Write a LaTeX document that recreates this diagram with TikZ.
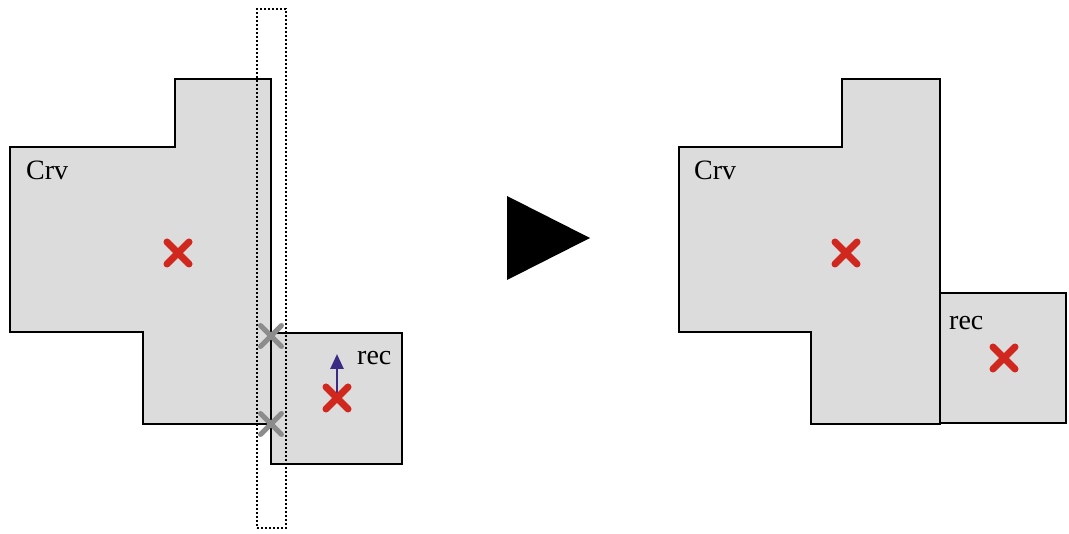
\documentclass[tikz,border=0pt]{standalone}
\usepackage{fontspec}
\setmainfont{Liberation Serif}
\usetikzlibrary{arrows.meta,calc}
\definecolor{shapefill}{HTML}{DCDCDC}
\definecolor{xred}{HTML}{D0281F}
\definecolor{xgrey}{HTML}{8C8C8C}
\definecolor{arrowblue}{HTML}{3A2C85}
\tikzset{
  region/.style={draw=black, fill=shapefill, line width=2.2pt, line join=miter},
  redx/.style={draw=xred, line width=7pt, line cap=round},
  greyx/.style={draw=xgrey, line width=5pt, line cap=round},
  lbl/.style={font=\fontsize{28}{30}\selectfont, inner sep=0pt, anchor=base west},
  window/.style={draw=black, line width=2pt, dash pattern=on 2pt off 2pt},
}
\newcommand{\xmark}[3]{\draw[#1] ($(#2)+(-#3,-#3)$) -- ($(#2)+(#3,#3)$) ($(#2)+(-#3,#3)$) -- ($(#2)+(#3,-#3)$);}
\begin{document}
\begin{tikzpicture}[x=1pt,y=-1pt]
\useasboundingbox (0,0) rectangle (1069,534);
% ---------- left ----------
\draw[region] (10,147) -- (175,147) -- (175,79) -- (271,79) -- (271,424) -- (143,424) -- (143,332) -- (10,332) -- cycle;
\draw[region] (271,333) rectangle (402,464);
\node[lbl] (crvL) at (26,180) {Crv};
\node[lbl] (recL) at (357,365) {rec};
\coordinate (cL) at (178,253);
\coordinate (rL) at (337,398);
\coordinate (g1) at (271,336);
\coordinate (g2) at (271,424);
\coordinate (tipL) at (337,354);
\draw[arrowblue, line width=2.6pt, -{Triangle[length=15pt,width=13pt]}] (rL) -- (tipL);
\xmark{redx}{cL}{11}
\xmark{redx}{rL}{11}
\xmark{greyx}{g1}{10.5}
\xmark{greyx}{g2}{10.5}
\node[window, minimum width=29pt, minimum height=519pt, inner sep=0pt] (win) at (271.5,268.5) {};
% ---------- arrow ----------
\fill[black] (507,196) -- (590,238) -- (507,280) -- cycle;
% ---------- right ----------
\draw[region] (679,147) -- (842,147) -- (842,79) -- (940,79) -- (940,424) -- (811,424) -- (811,332) -- (679,332) -- cycle;
\draw[region] (940,293) rectangle (1066,423);
\node[lbl] (crvR) at (694,180) {Crv};
\node[lbl] (recR) at (949,330) {rec};
\coordinate (cR) at (846,253);
\coordinate (rR) at (1004,358);
\xmark{redx}{cR}{11}
\xmark{redx}{rR}{11}
\end{tikzpicture}
\end{document}
